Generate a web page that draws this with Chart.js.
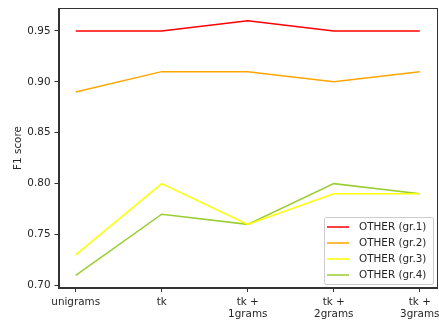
<!DOCTYPE html>
<html>
<head>
<meta charset="utf-8">
<script src="https://cdn.jsdelivr.net/npm/chart.js@4/dist/chart.umd.min.js"></script>
<style>
  body { margin: 0; background: #fff; }
  canvas { display: block; }
</style>
</head>
<body>
<canvas id="f1Chart" width="439" height="322"></canvas>
<script>
// Data
const categories = ['unigrams', 'tk', ['tk +', '1grams'], ['tk +', '2grams'], ['tk +', '3grams']];
const seriesNames = ['OTHER (gr.1)', 'OTHER (gr.2)', 'OTHER (gr.3)', 'OTHER (gr.4)'];
const gr1 = [0.95, 0.95, 0.96, 0.95, 0.95];
const gr2 = [0.89, 0.91, 0.91, 0.90, 0.91];
const gr3 = [0.73, 0.80, 0.76, 0.79, 0.79];
const gr4 = [0.71, 0.77, 0.76, 0.80, 0.79];
const yTicks = [0.70, 0.75, 0.80, 0.85, 0.90, 0.95];

const colors = ['#ff0000', '#ffa500', '#ffff00', '#9acd32'];
const allSeries = [gr1, gr2, gr3, gr4];
const FONT = 'DejaVu Sans';
const FSIZE = 10.4;
const TEXT = '#262626';
const AXIS = '#333';

Chart.defaults.font.family = FONT;
Chart.defaults.font.size = FSIZE;
Chart.defaults.color = TEXT;

// frame around the plot area (matplotlib spines)
const framePlugin = {
  id: 'frame',
  afterDatasetsDraw(chart) {
    const { ctx, chartArea: a } = chart;
    ctx.save();
    ctx.strokeStyle = AXIS;
    ctx.lineWidth = 1;
    ctx.strokeRect(Math.round(a.left) + 0.5, Math.round(a.top) + 0.5,
      Math.round(a.right - a.left) - 1, Math.round(a.bottom - a.top) - 1);
    ctx.restore();
  }
};

// legend drawn inside the plot, lower right
const innerLegend = {
  id: 'innerLegend',
  afterDraw(chart) {
    const { ctx, chartArea: a } = chart;
    const ds = chart.data.datasets;
    const boxW = 109, rowH = 16, boxH = (ds.length - 1) * rowH + 19;
    const x0 = a.right - 4 - boxW, y0 = a.bottom - 4 - boxH;
    ctx.save();
    ctx.fillStyle = 'rgba(255,255,255,0.8)';
    ctx.strokeStyle = '#cccccc';
    ctx.lineWidth = 1;
    ctx.beginPath();
    ctx.roundRect(x0 + 0.5, y0 + 0.5, boxW, boxH, 2);
    ctx.fill();
    ctx.stroke();
    ctx.font = FSIZE + 'px "' + FONT + '"';
    ctx.textBaseline = 'middle';
    ds.forEach((d, i) => {
      const cy = y0 + 10 + i * rowH;
      ctx.strokeStyle = d.borderColor;
      ctx.lineWidth = 1.5;
      ctx.beginPath();
      ctx.moveTo(x0 + 3, cy);
      ctx.lineTo(x0 + 25, cy);
      ctx.stroke();
      ctx.fillStyle = TEXT;
      ctx.fillText(d.label, x0 + 35, cy + 0.5);
    });
    ctx.restore();
  }
};

new Chart(document.getElementById('f1Chart').getContext('2d'), {
  type: 'line',
  data: {
    datasets: allSeries.map((s, k) => ({
      label: seriesNames[k],
      data: s.map((v, i) => ({ x: i, y: v })),
      borderColor: colors[k],
      backgroundColor: colors[k],
      borderWidth: 1.5,
      pointRadius: 0,
      tension: 0,
      fill: false
    }))
  },
  options: {
    responsive: false,
    animation: false,
    layout: { padding: { top: 8, right: 2, left: 0, bottom: 0 } },
    plugins: { legend: { display: false }, tooltip: { enabled: false } },
    scales: {
      x: {
        type: 'linear',
        min: -0.2,
        max: 4.2,
        afterBuildTicks(scale) { scale.ticks = categories.map((_, i) => ({ value: i })); },
        afterFit(scale) { scale.height = 34; scale.paddingLeft = 0; scale.paddingRight = 0; },
        ticks: {
          autoSkip: false,
          maxRotation: 0,
          padding: 4,
          color: TEXT,
          callback: (v) => categories[v]
        },
        grid: { drawOnChartArea: false, drawTicks: true, tickLength: 4, color: AXIS },
        border: { display: true, color: AXIS, width: 1 }
      },
      y: {
        min: 0.6975,
        max: 0.9725,
        afterBuildTicks(scale) { scale.ticks = yTicks.map(v => ({ value: v })); },
        afterFit(scale) { scale.width = 58.5; scale.paddingTop = 0; scale.paddingBottom = 0; },
        ticks: {
          padding: 4,
          color: TEXT,
          callback: (v) => Number(v).toFixed(2)
        },
        title: { display: true, text: 'F1 score', color: TEXT, font: { size: FSIZE }, padding: { top: 12 } },
        grid: { drawOnChartArea: false, drawTicks: true, tickLength: 4, color: AXIS },
        border: { display: true, color: AXIS, width: 1 }
      }
    }
  },
  plugins: [framePlugin, innerLegend]
});
</script>
</body>
</html>
